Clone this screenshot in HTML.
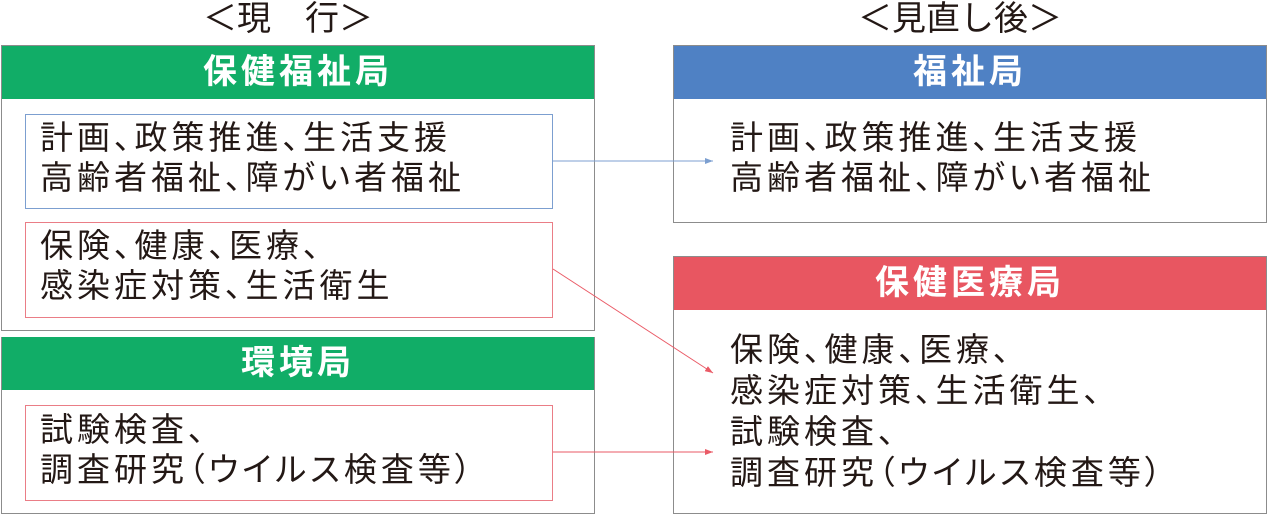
<!DOCTYPE html>
<html><head><meta charset="utf-8"><style>
body{margin:0;width:1268px;height:515px;background:#fff;position:relative;overflow:hidden;font-family:"Liberation Sans","Noto Sans CJK JP",sans-serif;color:#231815}
.a{position:absolute;box-sizing:border-box}
.box{border:1.5px solid #8c8c8c}
.hd{color:#fff;font-weight:bold;font-size:34px;text-align:center;letter-spacing:4px;line-height:52px}
.t{font-size:33px;letter-spacing:4px;line-height:40px;white-space:nowrap;font-feature-settings:"palt"}
.ti{font-size:34px;white-space:nowrap;line-height:38px}
</style></head><body>
<div class="a ti" style="left:203px;top:0px;">＜現　行＞</div>
<div class="a ti" style="left:858px;top:0px;">＜見直し後＞</div>

<div class="a box" style="left:1px;top:45px;width:594px;height:286px;"></div>
<div class="a hd" style="left:2px;top:46px;width:592px;height:53px;background:#11ad67;">保健福祉局</div>
<div class="a" style="left:25px;top:114px;width:528px;height:95px;border:1.3px solid #7c9fd0"></div>
<div class="a t" style="left:40px;top:118px;">計画、政策推進、生活支援<br>高齢者福祉、障がい者福祉</div>
<div class="a" style="left:25px;top:222px;width:528px;height:96px;border:1.3px solid #ea7d86"></div>
<div class="a t" style="left:40px;top:226px;">保険、健康、医療、<br>感染症対策、生活衛生</div>

<div class="a box" style="left:1px;top:337px;width:594px;height:177px;"></div>
<div class="a hd" style="left:2px;top:337px;width:592px;height:53px;background:#11ad67;">環境局</div>
<div class="a" style="left:25px;top:405px;width:528px;height:96px;border:1.3px solid #ea7d86"></div>
<div class="a t" style="left:40px;top:410px;">試験検査、<br>調査研究（ウイルス検査等）</div>

<div class="a box" style="left:673px;top:45px;width:594px;height:178px;"></div>
<div class="a hd" style="left:674px;top:46px;width:592px;height:53px;background:#4f81c4;">福祉局</div>
<div class="a t" style="left:730px;top:118px;">計画、政策推進、生活支援<br>高齢者福祉、障がい者福祉</div>

<div class="a box" style="left:673px;top:256px;width:594px;height:258px;"></div>
<div class="a hd" style="left:674px;top:257px;width:592px;height:53px;background:#e85661;">保健医療局</div>
<div class="a t" style="left:730px;top:329px;line-height:41px;">保険、健康、医療、<br>感染症対策、生活衛生、<br>試験検査、<br>調査研究（ウイルス検査等）</div>

<svg class="a" style="left:0;top:0" width="1268" height="515">
<defs>
<marker id="b" markerWidth="8" markerHeight="6" refX="8" refY="3" orient="auto" markerUnits="userSpaceOnUse"><path d="M0,0L8,3L0,6z" fill="#7c9fd0"/></marker>
<marker id="r" markerWidth="8" markerHeight="6" refX="8" refY="3" orient="auto" markerUnits="userSpaceOnUse"><path d="M0,0L8,3L0,6z" fill="#ea5a66"/></marker>
</defs>
<line x1="553" y1="161" x2="713" y2="161" stroke="#7c9fd0" stroke-width="1" marker-end="url(#b)"/>
<line x1="553" y1="269" x2="713" y2="373" stroke="#ea5a66" stroke-width="1" marker-end="url(#r)"/>
<line x1="553" y1="452" x2="713" y2="452" stroke="#ea5a66" stroke-width="1" marker-end="url(#r)"/>
</svg>
</body></html>
